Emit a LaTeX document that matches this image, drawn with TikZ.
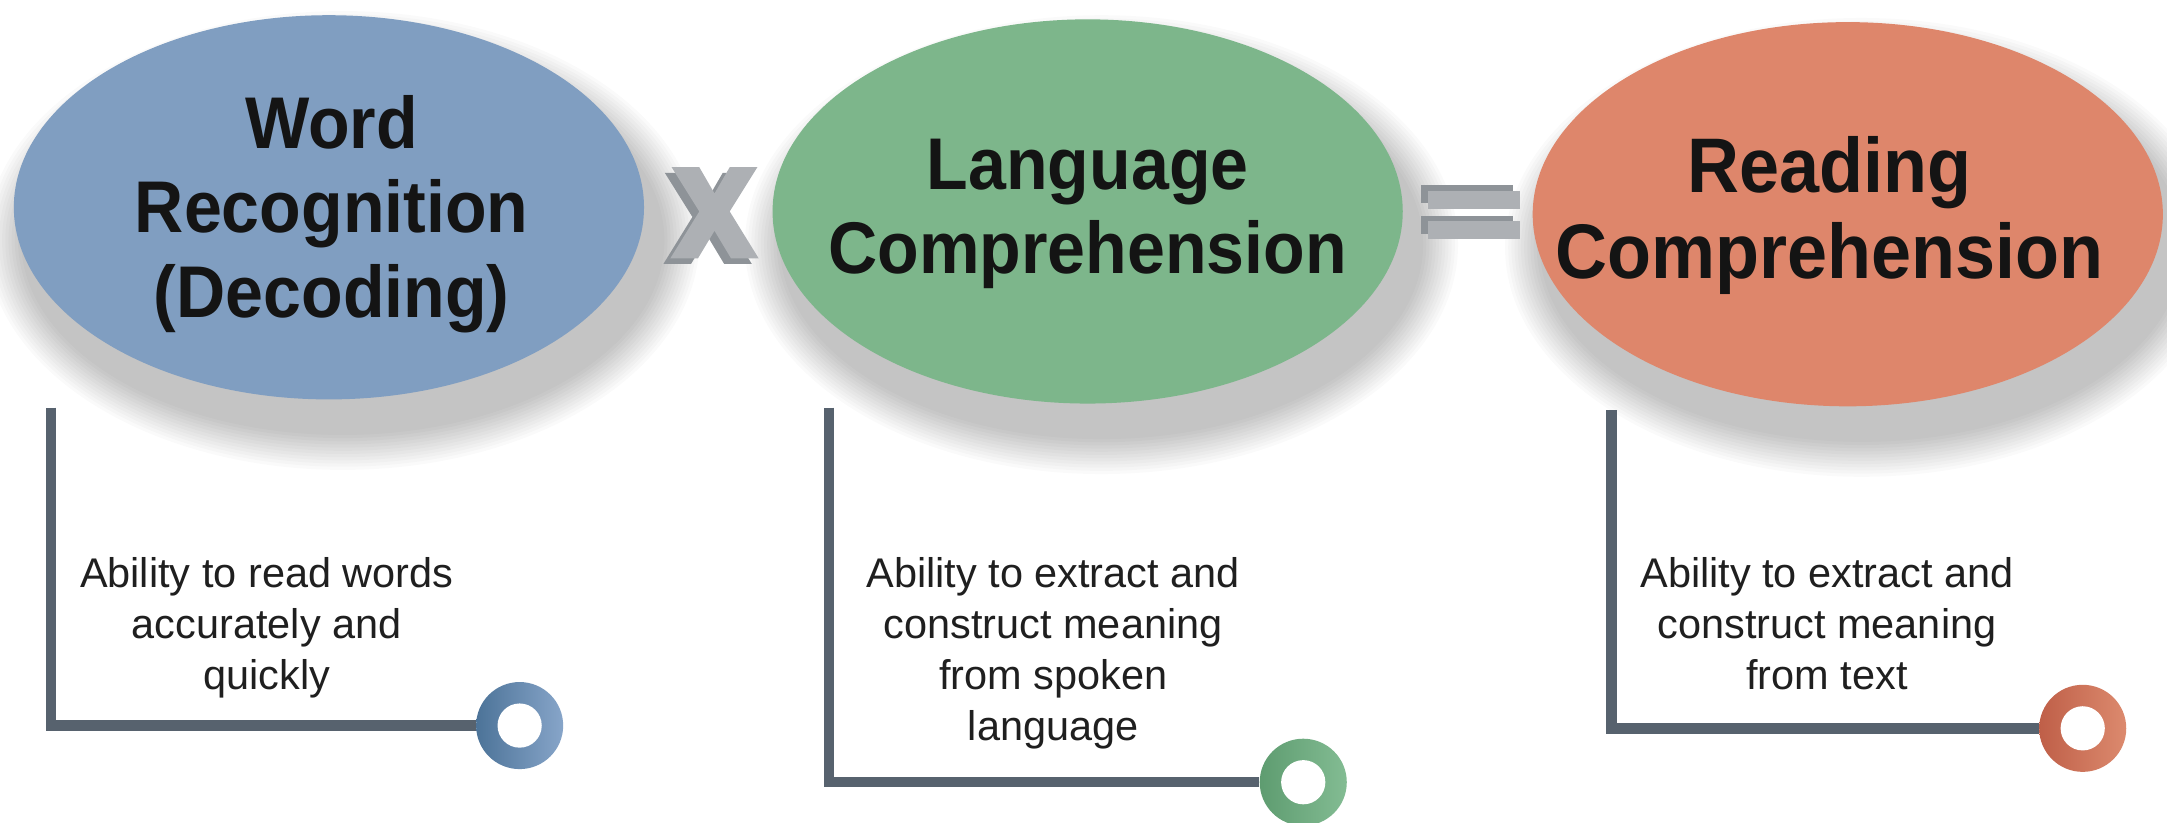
\documentclass[tikz,border=0pt]{standalone}
\usepackage{fontspec}
\setmainfont{Liberation Sans}
\newfontfamily\condfont[FakeStretch=0.93]{Liberation Sans}
\usetikzlibrary{shapes.geometric}
\definecolor{cblue}{HTML}{809EC1}
\definecolor{cgreen}{HTML}{7DB68B}
\definecolor{cred}{HTML}{DE866B}
\definecolor{cblueD}{HTML}{4C7398}
\definecolor{cblueL}{HTML}{87A5C9}
\definecolor{cgreenD}{HTML}{5E9C70}
\definecolor{cgreenL}{HTML}{83BC93}
\definecolor{credD}{HTML}{BF5F48}
\definecolor{credL}{HTML}{DC8A6E}
\definecolor{cline}{HTML}{57626E}
\definecolor{opface}{HTML}{ADB0B4}
\definecolor{opside}{HTML}{8E9398}
\begin{document}
\begin{tikzpicture}[x=1pt,y=-1pt,
  oval/.style={ellipse, minimum width=456pt, minimum height=278pt, inner sep=0pt},
  title/.style={align=center, inner sep=0pt,
    font=\condfont\fontsize{53}{61}\selectfont\bfseries, text=black!92},
  desc/.style={align=center, font=\fontsize{30}{37}\selectfont, inner sep=0pt,
    anchor=base, text=black!88},
  conn/.style={draw=cline, line width=7.5pt, line join=miter},
  ring/.style={circle, minimum size=63pt, inner sep=0pt, shading=axis, shading angle=90},
]
\useasboundingbox (0,0) rectangle (1568,595);
\fill[white] (0,0) rectangle (1568,595);

% soft drop shadows
\foreach \cx/\cy in {238/150, 787/153, 1337/155}{
  \foreach \i in {0,...,11}{
    \fill[black, opacity=0.018] (\cx+10,\cy+24) ellipse [x radius={230+28-2.3*\i}, y radius={138+28-2.3*\i}];
  }
}

% ellipses
\node[oval, fill=cblue] (wr) at (238,150) {};
\node[oval, fill=cgreen] (lc) at (787,153) {};
\node[oval, fill=cred] (rc) at (1337,155) {};
\node[title] (wrt) at (240,155) {Word\\Recognition\\(Decoding)};
\node[title] (lct) at (787,155) {Language\\Comprehension};
\node[title, font=\condfont\fontsize{56}{62}\selectfont\bfseries] (rct) at (1324,156) {Reading\\Comprehension};

% multiplication sign (3D)
\fill[opside, shift={(-5,4)}] (486,121) -- (506,121) -- (517,140) -- (528,121) -- (548,121) -- (528,153)
  -- (549,187) -- (529,187) -- (517,167) -- (505,187) -- (485,187) -- (506,153) -- cycle;
\fill[opface] (486,121) -- (506,121) -- (517,140) -- (528,121) -- (548,121) -- (528,153)
  -- (549,187) -- (529,187) -- (517,167) -- (505,187) -- (485,187) -- (506,153) -- cycle;

% equals sign (3D)
\fill[opside] (1028,134) rectangle (1095,147);
\fill[opside] (1028,156) rectangle (1095,169);
\fill[opface] (1033,138) rectangle (1100,151);
\fill[opface] (1033,160) rectangle (1100,173);

% descriptions (anchor = baseline of last line)
\node[desc] (d1) at (193,499) {Ability to read words\\accurately and\\quickly};
\node[desc] (d2) at (762,536) {Ability to extract and\\construct meaning\\from spoken\\language};
\node[desc] (d3) at (1322,499) {Ability to extract and\\construct meaning\\from text};

% rings
\node[ring, left color=cblueD, right color=cblueL] (r1) at (376,525) {};
\node[ring, left color=cgreenD, right color=cgreenL] (r2) at (943,566) {};
\node[ring, left color=credD, right color=credL] (r3) at (1507,527) {};
\foreach \r in {r1,r2,r3}{ \fill[white] (\r.center) circle (16); }

% connectors
\coordinate (t1) at (37,295);
\coordinate (t2) at (600,295);
\coordinate (t3) at (1166,297);
\draw[conn] (t1) |- (r1.west);
\draw[conn] (t2) |- (r2.west);
\draw[conn] (t3) |- (r3.west);
\end{tikzpicture}
\end{document}
